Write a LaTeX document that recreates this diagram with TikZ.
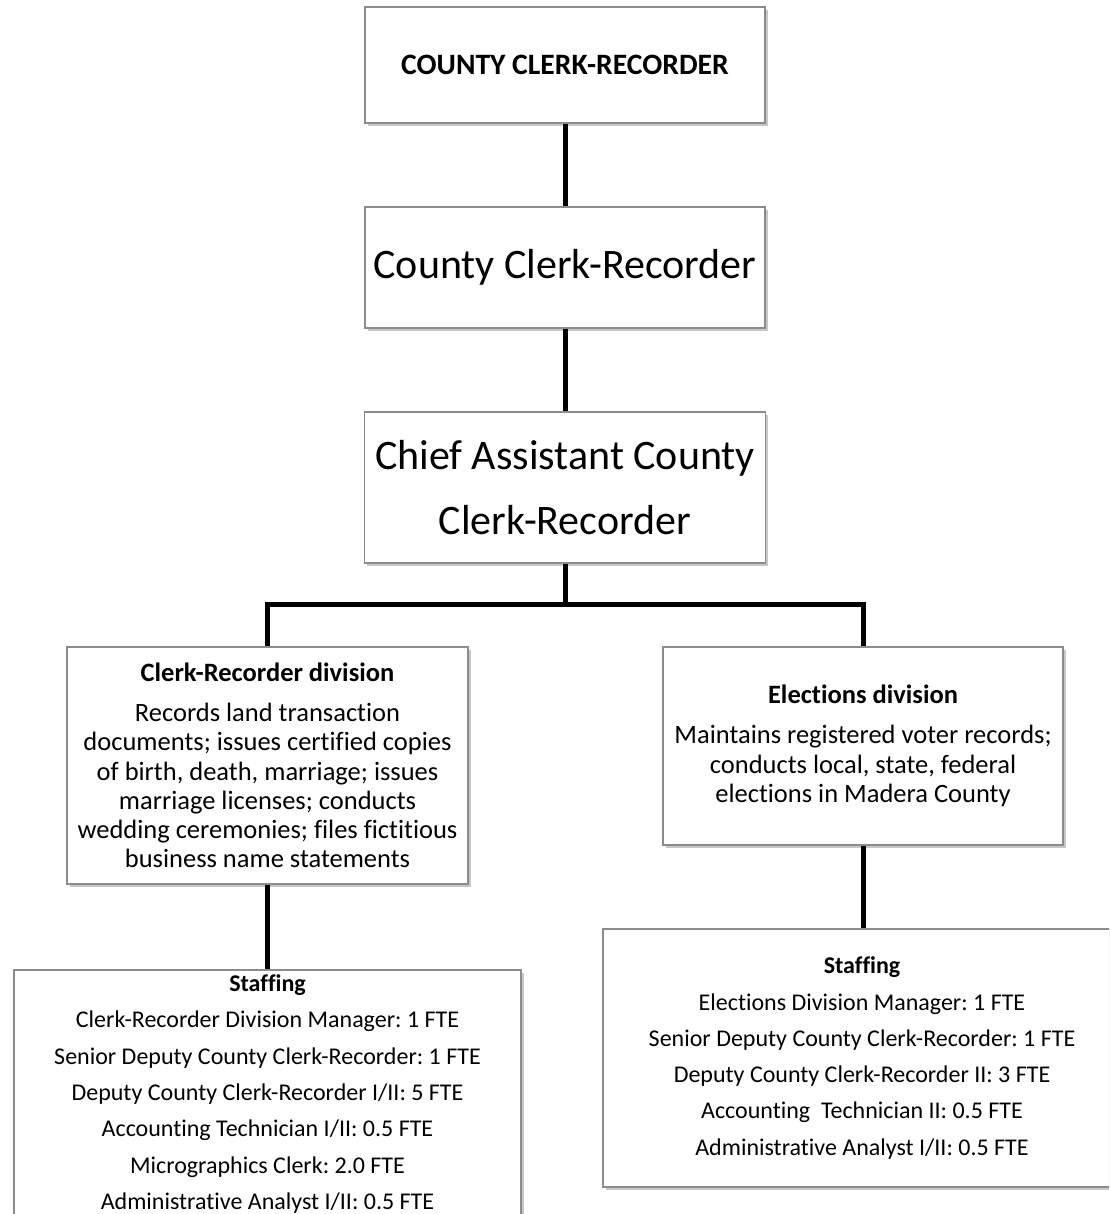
\documentclass[tikz,border=0pt]{standalone}
\usepackage{fontspec}
\setmainfont{Carlito}[RawFeature={-liga;-clig;-calt;-dlig;-rlig}]
\usetikzlibrary{shadows}
\definecolor{boxgray}{HTML}{8C8C8C}
\frenchspacing
\begin{document}
\begin{tikzpicture}[x=1pt,y=-1pt,
  box/.style={draw=boxgray, line width=1.2pt, fill=white, rectangle, align=center, inner sep=0pt,
    drop shadow={shadow xshift=2.5pt, shadow yshift=-3pt, opacity=0.22, fill=black}},
  plain/.style={align=center, inner sep=0pt},
  bigtext/.style={font=\fontsize{42}{65}\selectfont},
  toptext/.style={font=\bfseries\fontsize{29.6}{34}\selectfont},
  divtext/.style={font=\fontsize{26.5}{29.3}\selectfont},
  stafftext/.style={font=\fontsize{24}{36.3}\selectfont},
  conn/.style={line width=5pt, draw=black}]
\useasboundingbox (0,0) rectangle (1109,1214);
\clip (0,0) rectangle (1109,1214);

\node[box, toptext, minimum width=400pt, minimum height=116pt] (b1) at (565,65) {COUNTY CLERK-RECORDER};
\node[box, bigtext, minimum width=400pt, minimum height=121pt] (b2) at (565,267.5) {County Clerk-Recorder};
\node[box, bigtext, minimum width=401pt, minimum height=151pt] (b3) at (565,487.5) {Chief Assistant County\\Clerk-Recorder};

\node[box, divtext, minimum width=401pt, minimum height=237pt] (crd) at (267.5,765.5)
  {\textbf{Clerk-Recorder division}\\[10.7pt]
   Records land transaction\\
   documents; issues certified copies\\
   of birth, death, marriage; issues\\
   marriage licenses; conducts\\
   wedding ceremonies; files fictitious\\
   business name statements};

\node[box, divtext, minimum width=400pt, minimum height=198pt] (eld) at (863,746)
  {\textbf{Elections division}\\[10.7pt]
   Maintains registered voter records;\\
   conducts local, state, federal\\
   elections in Madera County};

\node[box, minimum width=507pt, minimum height=264pt] (crs) at (267.5,1102) {};
\node[plain, stafftext] (crst) at (267.5,1094)
  {\textbf{Staffing}\\
   Clerk-Recorder Division Manager: 1 FTE\\
   Senior Deputy County Clerk-Recorder: 1 FTE\\
   Deputy County Clerk-Recorder I/II: 5 FTE\\
   Accounting Technician I/II: 0.5 FTE\\
   Micrographics Clerk: 2.0 FTE\\
   Administrative Analyst I/II: 0.5 FTE};

\node[box, minimum width=530pt, minimum height=258pt] (els) at (868,1058) {};
\node[plain, stafftext] (elst) at (862,1058)
  {\textbf{Staffing}\\
   Elections Division Manager: 1 FTE\\
   Senior Deputy County Clerk-Recorder: 1 FTE\\
   Deputy County Clerk-Recorder II: 3 FTE\\
   Accounting\ \ Technician II: 0.5 FTE\\
   Administrative Analyst I/II: 0.5 FTE};

\coordinate (j) at (565,604);
\draw[conn] (b1.south) -- (b2.north);
\draw[conn] (b2.south) -- (b3.north);
\draw[conn] (b3.south) -- (j);
\draw[conn] (crd.north) |- (j) -| (eld.north);
\draw[conn] (crd.south) -- (crs.north);
\draw[conn] (eld.south) -- (eld.south |- els.north);
\end{tikzpicture}
\end{document}
